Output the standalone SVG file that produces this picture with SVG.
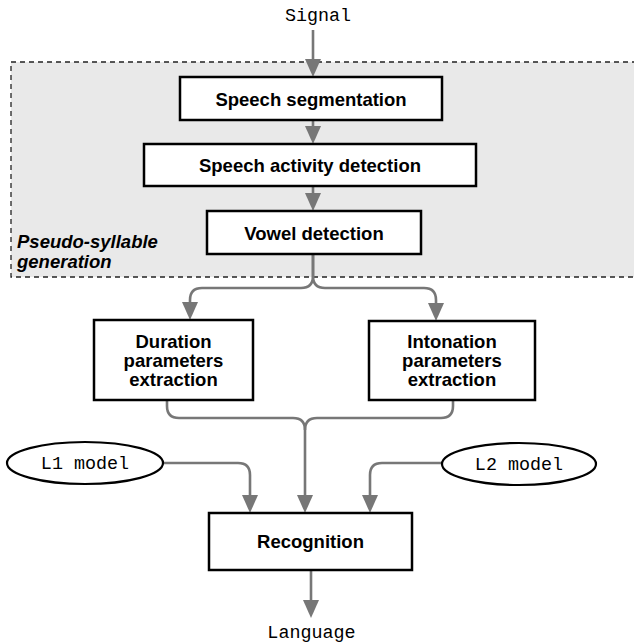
<svg xmlns="http://www.w3.org/2000/svg" width="634" height="644" viewBox="0 0 634 644">
<defs>
<style>
.box{fill:#fff;stroke:#000;stroke-width:2.5}
.ell{fill:#fff;stroke:#000;stroke-width:2.2}
.lbl{font-family:"Liberation Sans",Arial,sans-serif;font-weight:bold;font-size:18.5px;fill:#000;text-anchor:middle}
.mono{font-family:"Liberation Mono","Courier New",monospace;font-size:18.4px;fill:#000;text-anchor:middle}
.grp{font-family:"Liberation Sans",Arial,sans-serif;font-weight:bold;font-style:italic;font-size:18.5px;fill:#000}
.con{fill:none;stroke:#777;stroke-width:2.6}
</style>
<marker id="arr" markerUnits="userSpaceOnUse" markerWidth="18" markerHeight="16" refX="8" refY="8" orient="auto">
<path d="M0,0 L18,8 L0,16 z" fill="#777"/>
</marker>
</defs>
<g id="group-pseudo">
<rect x="11" y="62" width="640" height="215" fill="#e9e9e9" stroke="#222" stroke-width="1.3" stroke-dasharray="5,4"/>
<text class="grp" x="17" y="248">Pseudo-syllable</text>
<text class="grp" x="17" y="268">generation</text>
</g>
<g id="connectors">
<path class="con" d="M313,30 V67" marker-end="url(#arr)"/>
<path class="con" d="M313,120 V134" marker-end="url(#arr)"/>
<path class="con" d="M313,186 V201" marker-end="url(#arr)"/>
<path class="con" d="M313,254 V276 Q313,288 301,288 H202 Q190,288 190,300 V310" marker-end="url(#arr)"/>
<path class="con" d="M313,254 V276 Q313,288 325,288 H424 Q436,288 436,300 V311" marker-end="url(#arr)"/>
<path class="con" d="M167,400 V406 Q167,418 179,418 H293 Q305,418 305,430 V503" marker-end="url(#arr)"/>
<path class="con" d="M453,400 V406 Q453,418 441,418 H317 Q305,418 305,430"/>
<path class="con" d="M163,463 H238 Q250,463 250,475 V503" marker-end="url(#arr)"/>
<path class="con" d="M442,463 H382 Q370,463 370,475 V503" marker-end="url(#arr)"/>
<path class="con" d="M311,570 V608" marker-end="url(#arr)"/>
</g>
<g id="signal"><text class="mono" x="318" y="21">Signal</text></g>
<g id="speech-segmentation">
<rect class="box" x="180" y="77" width="262" height="43"/>
<text class="lbl" x="311" y="106">Speech segmentation</text>
</g>
<g id="speech-activity">
<rect class="box" x="144" y="144" width="332" height="42"/>
<text class="lbl" x="310" y="172">Speech activity detection</text>
</g>
<g id="vowel-detection">
<rect class="box" x="207" y="211" width="214" height="43"/>
<text class="lbl" x="314" y="240">Vowel detection</text>
</g>
<g id="duration">
<rect class="box" x="94" y="320" width="159" height="80"/>
<text class="lbl" x="173.5" y="348">Duration</text>
<text class="lbl" x="173.5" y="367">parameters</text>
<text class="lbl" x="173.5" y="386">extraction</text>
</g>
<g id="intonation">
<rect class="box" x="369" y="321" width="166" height="79"/>
<text class="lbl" x="452" y="348">Intonation</text>
<text class="lbl" x="452" y="367">parameters</text>
<text class="lbl" x="452" y="386">extraction</text>
</g>
<g id="l1-model">
<ellipse class="ell" cx="85" cy="463" rx="78" ry="21"/>
<text class="mono" x="85" y="469">L1 model</text>
</g>
<g id="l2-model">
<ellipse class="ell" cx="519" cy="464" rx="77" ry="21"/>
<text class="mono" x="519" y="470">L2 model</text>
</g>
<g id="recognition">
<rect class="box" x="209" y="513" width="203" height="57"/>
<text class="lbl" x="310.5" y="548">Recognition</text>
</g>
<g id="language"><text class="mono" x="311.5" y="638">Language</text></g>
</svg>
